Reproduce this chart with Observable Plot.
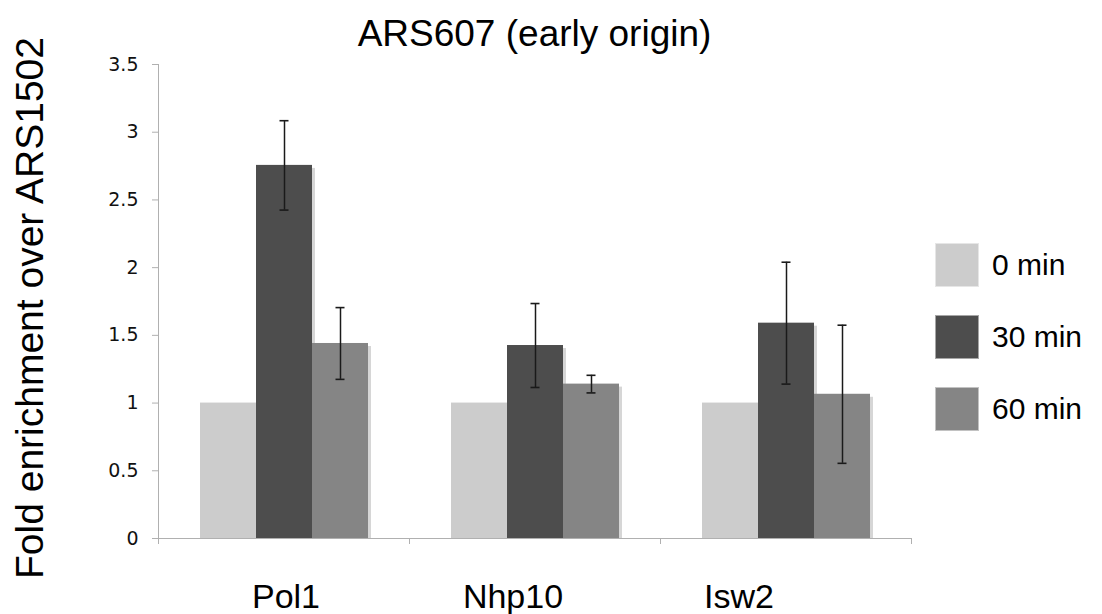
<!DOCTYPE html>
<html>
<head>
<meta charset="utf-8">
<script src="https://cdn.jsdelivr.net/npm/d3@7"></script>
<script src="https://cdn.jsdelivr.net/npm/@observablehq/plot@0.6"></script>
<style>
  html, body { margin: 0; padding: 0; background: #fff; }
  #wrap { position: relative; width: 1102px; height: 614px; overflow: hidden; font-family: "Liberation Sans", Arial, sans-serif; }
  #title { position: absolute; left: 158px; width: 753px; top: 12px; text-align: center; font-size: 37px; line-height: 44px; color: #000; }
  #legend { position: absolute; left: 935px; top: 243px; }
  .row { display: flex; align-items: center; height: 44px; margin-bottom: 28px; }
  .sw { width: 44px; height: 44px; box-sizing: border-box; border: 1px solid rgba(255,255,255,0.5); }
  .lab { margin-left: 13px; font-size: 30px; color: #000; }
</style>
</head>
<body>
<div id="wrap">
  <div id="chart"></div>
  <div id="title"></div>
  <div id="legend"></div>
</div>
<script>
// ---- data ----
const titleText = "ARS607 (early origin)";
const yLabel = "Fold enrichment over ARS1502";
const groups = ["Pol1", "Nhp10", "Isw2"];
const series = ["0 min", "30 min", "60 min"];
const colors = ["#cccccc", "#4d4d4d", "#858585"];
const mean0 = [1, 1, 1];
const mean30 = [2.755, 1.425, 1.59];
const mean60 = [1.44, 1.14, 1.065];
const err30 = [0.33, 0.31, 0.45];
const err60 = [0.265, 0.065, 0.51];
const yTicks = [0, 0.5, 1, 1.5, 2, 2.5, 3, 3.5];
// hand-placed category label nudges in the original (px)
const labelNudge = [2, -22, -47];

// ---- table built from arrays ----
const means = [mean0, mean30, mean60];
const errs = [null, err30, err60];
const rows = [];
groups.forEach((g, gi) => {
  series.forEach((s, si) => {
    rows.push({group: g, series: s, value: means[si][gi], err: errs[si] ? errs[si][gi] : null});
  });
});
const errRows = rows.filter(d => d.err != null);

const W = 1102, H = 614, mL = 158, mR = 191, mT = 64, mB = 76;
const font = "'Liberation Sans', Arial, sans-serif";

const plot = Plot.plot({
  width: W, height: H,
  marginLeft: mL, marginRight: mR, marginTop: mT, marginBottom: mB,
  style: {background: "transparent", color: "#000", fontFamily: font, overflow: "visible"},
  fx: {domain: groups, paddingInner: 0, paddingOuter: 0, label: null, axis: null},
  x: {domain: series, paddingInner: 0, paddingOuter: 0.74, axis: null},
  y: {domain: [0, 3.5], label: null},
  color: {domain: series, range: colors},
  marks: [
    Plot.barY(rows, {fx: "group", x: "series", y: "value", fill: "#000", fillOpacity: 0.16, dx: 3, insetTop: 3}),
    Plot.barY(rows, {fx: "group", x: "series", y: "value", fill: "series"}),
    Plot.ruleY([0], {stroke: "#b0b0b0", strokeWidth: 1}),
    Plot.ruleX(errRows, {fx: "group", x: "series", y1: d => d.value - d.err, y2: d => d.value + d.err, stroke: "#1a1a1a", strokeWidth: 1.5}),
    Plot.tickY(errRows, {fx: "group", x: "series", y: d => d.value + d.err, insetLeft: 23.5, insetRight: 23.5, stroke: "#1a1a1a", strokeWidth: 1.6}),
    Plot.tickY(errRows, {fx: "group", x: "series", y: d => d.value - d.err, insetLeft: 23.5, insetRight: 23.5, stroke: "#1a1a1a", strokeWidth: 1.6}),
    Plot.axisY({ticks: yTicks, tickFormat: d3.format("~g"), tickSize: 6, tickPadding: 14, fontSize: 19, fontFamily: "'DejaVu Sans', Verdana, sans-serif", stroke: "#b0b0b0", fill: "#111", label: null}),
    ...groups.map((g, i) => Plot.text([g], {fx: d => d, text: d => d, frameAnchor: "bottom", dy: 69, dx: labelNudge[i], fontSize: 34, fill: "#000", lineAnchor: "bottom"}))
  ]
});
document.getElementById("chart").appendChild(plot);

// axis line and band-boundary ticks, positioned with Plot's own scales
const ys = plot.scale("y");
const fxs = plot.scale("fx");
const svg = d3.select(plot);
const y0 = ys.apply(0), yTop = ys.apply(yTicks[yTicks.length - 1]);
const xLeft = fxs.apply(groups[0]);
svg.append("line").attr("x1", xLeft + 0.5).attr("x2", xLeft + 0.5).attr("y1", yTop).attr("y2", y0)
  .attr("stroke", "#b0b0b0");
const bounds = groups.map(g => fxs.apply(g)).concat([fxs.apply(groups[groups.length - 1]) + fxs.bandwidth]);
bounds.forEach(b => {
  svg.append("line").attr("x1", b + 0.5).attr("x2", b + 0.5).attr("y1", y0).attr("y2", y0 + 6)
    .attr("stroke", "#b0b0b0");
});
// y-axis title
svg.append("text")
  .attr("transform", `translate(43,${(yTop + y0) / 2 + 7}) rotate(-90)`)
  .attr("text-anchor", "middle")
  .attr("font-size", 39)
  .attr("font-family", font)
  .attr("fill", "#000")
  .text(yLabel);

document.getElementById("title").textContent = titleText;

// legend
const leg = document.getElementById("legend");
series.forEach((s, i) => {
  const row = document.createElement("div");
  row.className = "row";
  const sw = document.createElement("div");
  sw.className = "sw";
  sw.style.background = colors[i];
  const lab = document.createElement("div");
  lab.className = "lab";
  lab.textContent = s;
  row.appendChild(sw); row.appendChild(lab);
  leg.appendChild(row);
});
</script>
</body>
</html>
